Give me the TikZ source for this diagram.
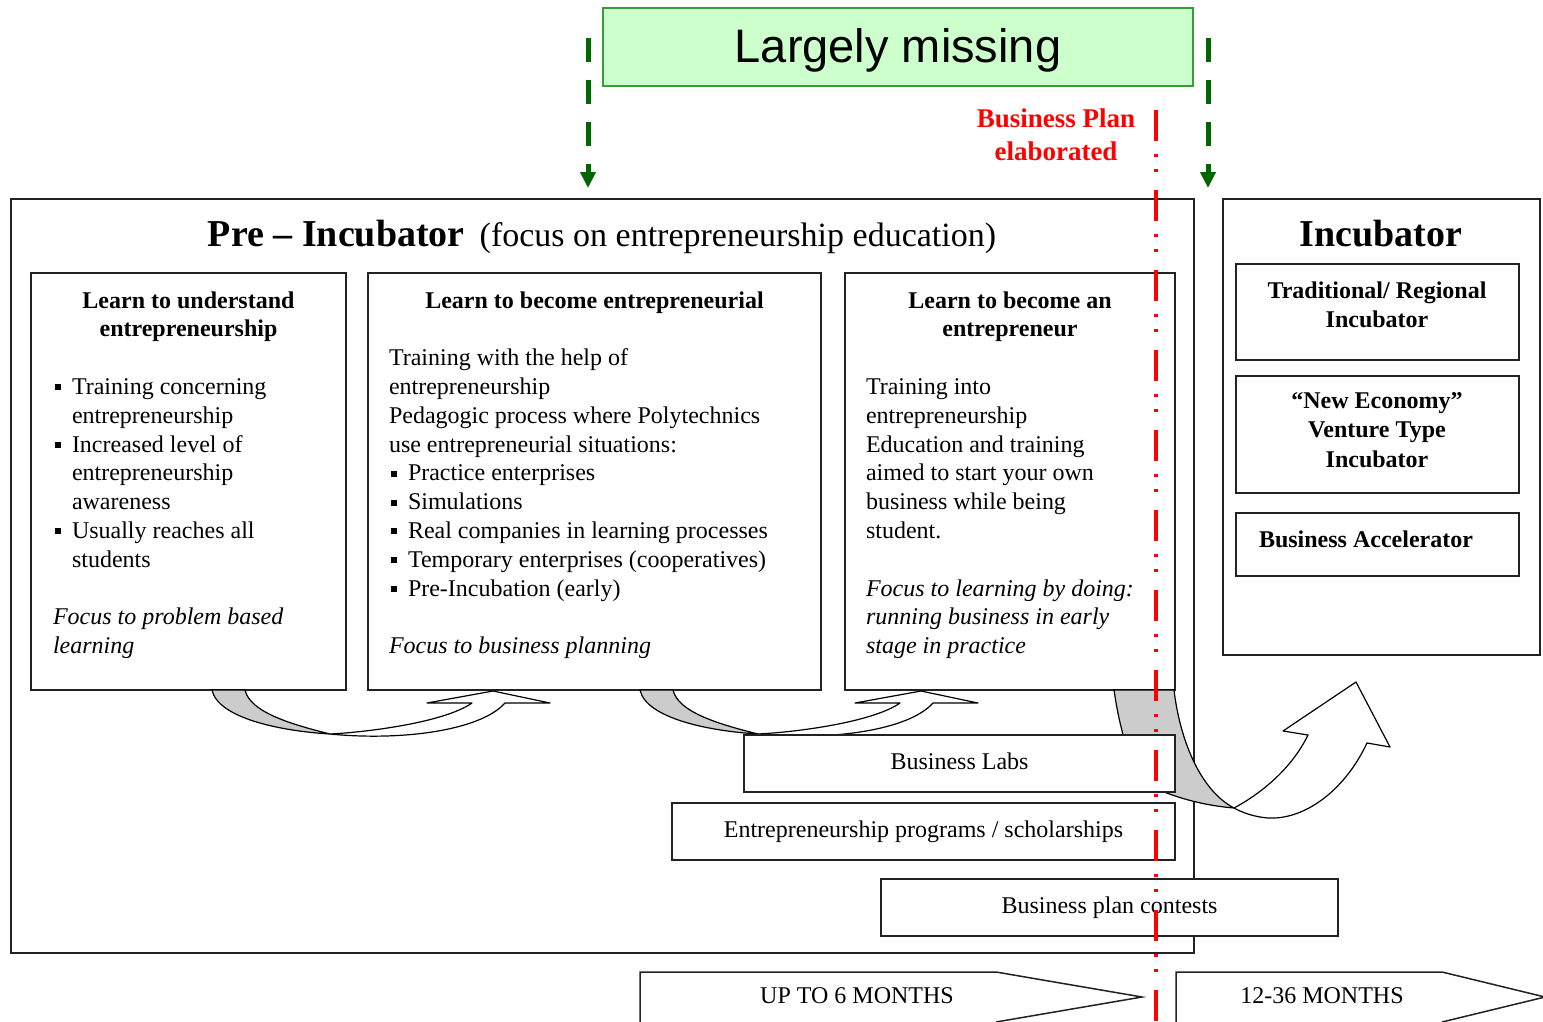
\documentclass[tikz,border=0pt]{standalone}
\usepackage{fontspec}
\setmainfont{Liberation Serif}
\newfontfamily\arialfont{Liberation Sans}
\usetikzlibrary{arrows.meta}
\definecolor{lgreen}{HTML}{CCFFCC}
\definecolor{bgreen}{HTML}{33A033}
\definecolor{dgreen}{HTML}{006600}
\definecolor{arrgray}{HTML}{CCCCCC}
\definecolor{framec}{HTML}{222222}
\newcommand\bul{\makebox[19pt][l]{\hspace{2pt}\rule[4pt]{6pt}{6pt}}}
\newcommand\ind{\hspace*{19pt}}
\begin{document}
\begin{tikzpicture}[x=1pt,y=-1pt,
  frame/.style={draw=framec, line width=1.5pt, fill=white, inner sep=0pt, outer sep=0pt},
  txt/.style={inner sep=0pt, outer sep=0pt, font=\fontsize{24}{28.8}\selectfont},
  btxt/.style={inner sep=0pt, outer sep=0pt, font=\fontsize{24}{28.8}\selectfont\bfseries},
  itxt/.style={inner sep=0pt, outer sep=0pt, font=\fontsize{24}{29.5}\selectfont\bfseries},
  curv/.style={draw=black, line width=1.2pt, line join=round},
  garrow/.style={draw=dgreen, line width=5pt, dash pattern=on 24pt off 18pt, -{Triangle[length=16pt,width=15pt]}},
  pent/.style={draw=framec, line width=1.5pt, line join=miter}
]
\useasboundingbox (0,0) rectangle (1543,1021);
\clip (0,0) rectangle (1543,1021);
\fill[white] (0,0) rectangle (1543,1021);

% main frames
\node[frame, minimum width=1183pt, minimum height=754pt] (pre) at (602.5,576) {};
\node[frame, minimum width=317pt, minimum height=456pt] (inc) at (1381.5,427) {};

% titles
\node[inner sep=0pt, anchor=base] (pretitle) at (602,246) {{\fontsize{38}{40}\selectfont\bfseries Pre – Incubator}\hspace{15pt}{\fontsize{34}{40}\selectfont(focus on entrepreneurship education)}};
\node[inner sep=0pt, anchor=base, font=\fontsize{38}{40}\selectfont\bfseries] (inctitle) at (1381,246) {Incubator};

% three learning boxes
\node[frame, minimum width=315pt, minimum height=417pt] (b1) at (188.5,481.5) {};
\node[frame, minimum width=453pt, minimum height=417pt] (b2) at (594.5,481.5) {};
\node[frame, minimum width=330pt, minimum height=417pt] (b3) at (1010,481.5) {};

\node[btxt, anchor=north, align=center] (h1) at (188.5,287.84) {\strut Learn to understand\\\strut entrepreneurship};
\node[txt, anchor=north west, align=left] (t1) at (53,374.24) {%
\strut\bul Training concerning\\
\strut\ind entrepreneurship\\
\strut\bul Increased level of\\
\strut\ind entrepreneurship\\
\strut\ind awareness\\
\strut\bul Usually reaches all\\
\strut\ind students\\
\strut\\
\strut\textit{Focus to problem based}\\
\strut\textit{learning}};

\node[btxt, anchor=north, align=center] (h2) at (594.5,287.84) {\strut Learn to become entrepreneurial};
\node[txt, anchor=north west, align=left] (t2) at (389,345.44) {%
\strut Training with the help of\\
\strut entrepreneurship\\
\strut Pedagogic process where Polytechnics\\
\strut use entrepreneurial situations:\\
\strut\bul Practice enterprises\\
\strut\bul Simulations\\
\strut\bul Real companies in learning processes\\
\strut\bul Temporary enterprises (cooperatives)\\
\strut\bul Pre-Incubation (early)\\
\strut\\
\strut\textit{Focus to business planning}};

\node[btxt, anchor=north, align=center] (h3) at (1010,287.84) {\strut Learn to become an\\\strut entrepreneur};
\node[txt, anchor=north west, align=left] (t3) at (866,374.24) {%
\strut Training into\\
\strut entrepreneurship\\
\strut Education and training\\
\strut aimed to start your own\\
\strut business while being\\
\strut student.\\
\strut\\
\strut\textit{Focus to learning by doing:}\\
\strut\textit{running business in early}\\
\strut\textit{stage in practice}};

% incubator inner boxes
\node[frame, minimum width=283pt, minimum height=96pt] (ia) at (1377.5,312) {};
\node[frame, minimum width=283pt, minimum height=117pt] (ib) at (1377.5,434.5) {};
\node[frame, minimum width=283pt, minimum height=63pt] (ic) at (1377.5,544.5) {};
\node[itxt, anchor=north, align=center] (iat) at (1377,277.35) {\strut Traditional/ Regional\\\strut Incubator};
\node[itxt, anchor=north, align=center] (ibt) at (1377,387.35) {\strut “New Economy”\\\strut Venture Type\\\strut Incubator};
\node[itxt, anchor=base] (ict) at (1366,547) {Business Accelerator};

% curved arrows between learning boxes
\foreach \dx in {0,428}{
\begin{scope}[xshift=\dx pt]
\filldraw[curv, fill=arrgray] (212,690) .. controls (218,718) and (280,731) .. (330,734) .. controls (290,724) and (250,712) .. (245,690) -- cycle;
\filldraw[curv, fill=white] (330,734) .. controls (370,732) and (445,722) .. (472,703) -- (427,703) -- (493,691) -- (550,703) -- (505,703) .. controls (480,731) and (400,741) .. (330,734) -- cycle;
\end{scope}}

% big curved arrow to incubator
\filldraw[curv, fill=arrgray] (1114,690) .. controls (1117,710) and (1120,725) .. (1126,745) -- (1150,786) .. controls (1180,800) and (1210,806) .. (1234,808) .. controls (1200,790) and (1180,740) .. (1174,690) -- cycle;
\filldraw[curv, fill=white] (1234,808) .. controls (1262,793) and (1292,768) .. (1308,735) -- (1283,731) -- (1356,682) -- (1390,747) -- (1367,743) .. controls (1345,790) and (1305,820) .. (1268,818) .. controls (1255,817) and (1243,813) .. (1234,808) -- cycle;

% lower boxes
\node[frame, txt, minimum width=431pt, minimum height=57pt] (labs) at (959.5,763.5) {\strut Business Labs};
\node[frame, txt, minimum width=503pt, minimum height=57pt] (progs) at (923.5,831.5) {\strut Entrepreneurship programs / scholarships};
\node[frame, txt, minimum width=457pt, minimum height=57pt] (cont) at (1109.5,907.5) {\strut Business plan contests};

% time arrows
\draw[pent] (640,1024) -- (640,972) -- (996,972) -- (1142,997) -- (996,1022);
\draw[pent] (1176,1024) -- (1176,972) -- (1442,972) -- (1545,997) -- (1442,1022);
\node[txt, anchor=base] (m6) at (857,1003) {UP TO 6 MONTHS};
\node[txt, anchor=base] (m36) at (1322,1003) {12-36 MONTHS};

% largely missing
\node[draw=bgreen, fill=lgreen, line width=1.5pt, minimum width=590pt, minimum height=78pt, inner sep=0pt] (lm) at (898,47) {};
\node[inner sep=0pt, anchor=base, font=\arialfont\fontsize{47}{50}\selectfont] (lmt) at (898,62) {Largely missing};

\coordinate (ga1) at (588,38);
\coordinate (ga2) at (588,188);
\coordinate (gb1) at (1208,38);
\coordinate (gb2) at (1208,188);
\draw[garrow] (ga1) -- (ga2);
\draw[garrow] (gb1) -- (gb2);

\node[inner sep=0pt, anchor=north, align=center, text=red, font=\fontsize{27}{33}\selectfont\bfseries] (bp) at (1056,103.9) {\strut Business Plan\\\strut elaborated};

% red milestone line
\coordinate (rtop) at (1156,110);
\coordinate (rbot) at (1156,1021);
\draw[red, line width=3.5pt, dash pattern=on 31pt off 13pt on 3pt off 12pt on 3pt off 18pt] (rtop) -- (rbot);
\end{tikzpicture}
\end{document}
